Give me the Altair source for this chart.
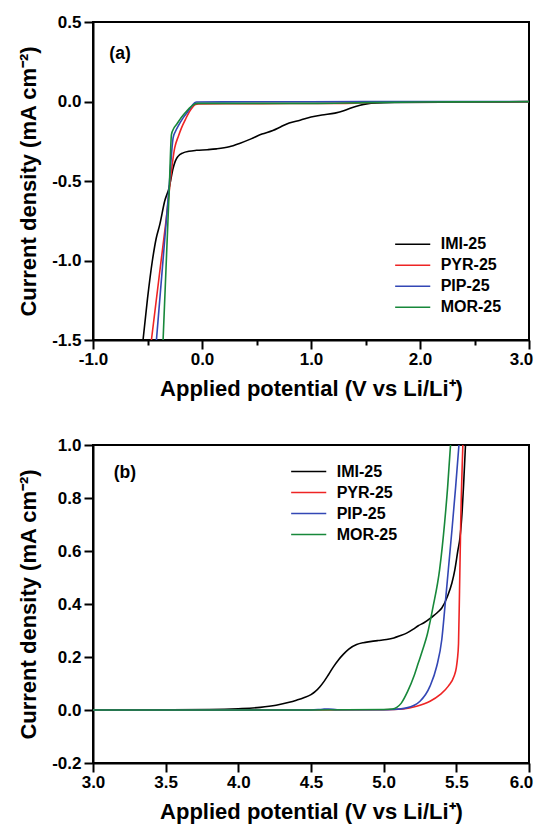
import altair as alt
import pandas as pd

series = ["IMI-25", "PYR-25", "PIP-25", "MOR-25"]
colors = ["#000000", "#ee2424", "#3347b5", "#17883a"]

# ---------- panel (a) ----------
a_imi_x = [-0.541, -0.50, -0.455, -0.42, -0.387, -0.342, -0.302, -0.265, -0.245, -0.22, -0.173, -0.12, -0.05, 0.05, 0.133, 0.25, 0.35, 0.45, 0.55, 0.65, 0.72, 0.80, 0.90, 1.00, 1.10, 1.22, 1.30, 1.36, 1.45, 1.51, 1.60, 1.80, 2.20, 2.60, 3.00]
a_imi_y = [-1.50, -1.24, -1.00, -0.86, -0.773, -0.626, -0.543, -0.42, -0.375, -0.345, -0.323, -0.313, -0.307, -0.303, -0.298, -0.285, -0.262, -0.235, -0.205, -0.182, -0.16, -0.135, -0.118, -0.098, -0.085, -0.073, -0.058, -0.042, -0.024, -0.015, -0.009, -0.006, -0.004, -0.003, -0.002]

a_pyr_x = [-0.464, -0.40, -0.33, -0.25, -0.215, -0.188, -0.15, -0.112, -0.085, -0.066, -0.03, 0.30, 0.80, 1.20, 1.40, 1.55, 1.75, 3.00]
a_pyr_y = [-1.50, -1.14, -0.75, -0.29, -0.215, -0.166, -0.11, -0.061, -0.035, -0.02, -0.015, -0.014, -0.013, -0.012, -0.010, -0.006, -0.003, -0.001]

a_pip_x = [-0.418, -0.36, -0.30, -0.265, -0.245, -0.219, -0.17, -0.128, -0.09, -0.066, -0.05, 0.50, 1.50, 3.00]
a_pip_y = [-1.50, -1.018, -0.52, -0.229, -0.19, -0.155, -0.10, -0.061, -0.025, -0.008, -0.003, -0.002, -0.001, 0.0]

a_mor_x = [-0.357, -0.33, -0.30, -0.28, -0.26, -0.234, -0.19, -0.142, -0.10, -0.066, -0.04, 0.50, 1.00, 1.50, 2.00, 3.00]
a_mor_y = [-1.50, -1.047, -0.543, -0.207, -0.17, -0.145, -0.10, -0.061, -0.032, -0.015, -0.012, -0.012, -0.012, -0.007, -0.003, -0.001]

# ---------- panel (b) ----------
b_imi_x = [3.00, 3.50, 3.80, 4.00, 4.15, 4.26, 4.35, 4.40, 4.45, 4.50, 4.53, 4.56, 4.59, 4.62, 4.653, 4.69, 4.722, 4.76, 4.814, 4.86, 4.906, 4.96, 5.02, 5.07, 5.112, 5.158, 5.204, 5.238, 5.28, 5.33, 5.37, 5.40, 5.44, 5.47, 5.49, 5.51, 5.525, 5.54, 5.55, 5.563]
b_imi_y = [0.000, 0.001, 0.002, 0.005, 0.010, 0.018, 0.029, 0.037, 0.046, 0.058, 0.070, 0.087, 0.108, 0.133, 0.162, 0.19, 0.21, 0.23, 0.247, 0.254, 0.258, 0.262, 0.266, 0.272, 0.280, 0.290, 0.305, 0.318, 0.330, 0.35, 0.368, 0.385, 0.43, 0.48, 0.53, 0.60, 0.65, 0.75, 0.85, 1.00]

b_pyr_x = [3.00, 4.50, 5.00, 5.135, 5.227, 5.319, 5.388, 5.445, 5.484, 5.50, 5.507, 5.515, 5.522, 5.53, 5.545]
b_pyr_y = [0.000, 0.000, 0.001, 0.004, 0.014, 0.033, 0.058, 0.09, 0.127, 0.16, 0.19, 0.25, 0.45, 0.70, 1.00]

b_pip_x = [3.00, 4.50, 4.58, 4.62, 4.68, 5.00, 5.06, 5.158, 5.25, 5.319, 5.365, 5.40, 5.422, 5.445, 5.47, 5.495, 5.518]
b_pip_y = [0.000, 0.000, 0.003, 0.004, 0.001, 0.001, 0.002, 0.008, 0.033, 0.09, 0.165, 0.266, 0.392, 0.53, 0.68, 0.84, 1.00]

b_mor_x = [3.00, 4.50, 5.00, 5.06, 5.09, 5.12, 5.165, 5.21, 5.24, 5.27, 5.30, 5.34, 5.385, 5.42, 5.44, 5.46]
b_mor_y = [0.000, 0.000, 0.002, 0.004, 0.010, 0.025, 0.07, 0.13, 0.18, 0.23, 0.285, 0.39, 0.53, 0.71, 0.84, 1.00]

# axis tick values
a_xticks = [-1.0, -0.5, 0.0, 0.5, 1.0, 1.5, 2.0, 2.5, 3.0]
a_yticks = [-1.5, -1.25, -1.0, -0.75, -0.5, -0.25, 0.0, 0.25, 0.5]
b_xticks = [3.0, 3.25, 3.5, 3.75, 4.0, 4.25, 4.5, 4.75, 5.0, 5.25, 5.5, 5.75, 6.0]
b_yticks = [-0.2, -0.1, 0.0, 0.1, 0.2, 0.3, 0.4, 0.5, 0.6, 0.7, 0.8, 0.9, 1.0]

# panel labels
a_label = {"x": [-0.85], "y": [0.30], "t": ["(a)"]}
b_label = {"x": [3.143], "y": [0.893], "t": ["(b)"]}

FONT = "Liberation Sans"
XTITLE = "Applied potential (V vs Li/Li\u207a)"
YTITLE = "Current density (mA cm\u207b\u00b2)"


def make_df(xs_list, ys_list):
    rows = []
    for name, xs, ys in zip(series, xs_list, ys_list):
        for i, (x, y) in enumerate(zip(xs, ys)):
            rows.append({"series": name, "x": x, "y": y, "i": i})
    return pd.DataFrame(rows)


def lab_expr(mult):
    return ("abs(round(datum.value*%d)) %% 2 == 0 ? replace(format(datum.value, '.1f'), '\u2212', '-') : ''" % mult)


def tick_cond(mult):
    return {"condition": {"test": "abs(round(datum.value*%d)) %% 2 == 0" % mult, "value": 9}, "value": 5}


def panel(df, lab, xdom, ydom, xticks, yticks, xm, ym, lx, ly):
    x_axis = alt.Axis(values=xticks, labelExpr=lab_expr(xm), tickSize=tick_cond(xm),
                      title=XTITLE, labelPadding=2, titlePadding=11, labelFlush=False,
                      labelOffset={"condition": {"test": "datum.value == %s" % xdom[1], "value": -8}, "value": 0})
    y_axis = alt.Axis(values=yticks, labelExpr=lab_expr(ym), tickSize=tick_cond(ym),
                      title=YTITLE, labelPadding=3, titlePadding=11, labelFlush=False)
    lines = alt.Chart(df).mark_line(clip=True, strokeWidth=1.6, interpolate="monotone").encode(
        x=alt.X("x:Q", scale=alt.Scale(domain=xdom, nice=False, zero=False), axis=x_axis),
        y=alt.Y("y:Q", scale=alt.Scale(domain=ydom, nice=False, zero=False), axis=y_axis),
        color=alt.Color("series:N", scale=alt.Scale(domain=series, range=colors),
                        legend=alt.Legend(orient="none", legendX=lx, legendY=ly, title=None,
                                          symbolType="M-2.7,0H2.7", symbolSize=169,
                                          symbolStrokeWidth=1.6, labelFontSize=16,
                                          labelFont=FONT, labelFontWeight="bold",
                                          labelColor="black", rowPadding=5, labelOffset=20,
                                          padding=0)),
        detail="series:N",
    )
    text = alt.Chart(pd.DataFrame(lab)).mark_text(
        align="left", baseline="middle", fontSize=17.5, fontWeight="bold", font=FONT, color="black"
    ).encode(x="x:Q", y="y:Q", text="t:N")
    return alt.layer(lines, text).properties(width=436, height=318)


pa = panel(make_df([a_imi_x, a_pyr_x, a_pip_x, a_mor_x], [a_imi_y, a_pyr_y, a_pip_y, a_mor_y]),
           a_label, [-1.0, 3.0], [-1.5, 0.5], a_xticks, a_yticks, 2, 4, 311.7, 214.3)
pb = panel(make_df([b_imi_x, b_pyr_x, b_pip_x, b_mor_x], [b_imi_y, b_pyr_y, b_pip_y, b_mor_y]),
           b_label, [3.0, 6.0], [-0.2, 1.0], b_xticks, b_yticks, 4, 10, 207.7, 18.5)

chart = alt.vconcat(pa, pb, spacing=35).resolve_scale(color="independent").properties(
    padding={"left": 8, "top": 4, "right": 0, "bottom": 5}
).configure_view(stroke="black", strokeWidth=2).configure_axis(
    grid=False, domainColor="black", domainWidth=2, tickColor="black", tickWidth=2,
    labelColor="black", titleColor="black", labelFont=FONT, titleFont=FONT,
    labelFontSize=17, labelFontWeight="bold", titleFontSize=22, titleFontWeight="bold"
)

chart.save("out.html", embed_options={"renderer": "svg", "actions": False})
